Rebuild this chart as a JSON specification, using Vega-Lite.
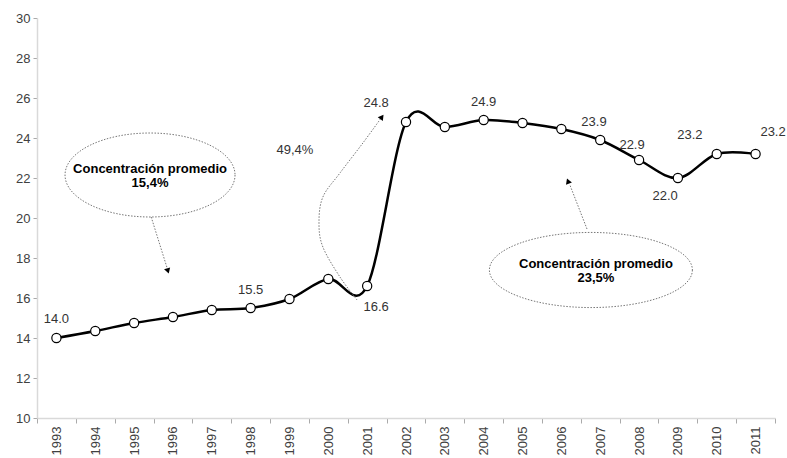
{
  "$schema": "https://vega.github.io/schema/vega-lite/v6.json",
  "width": 738,
  "height": 400,
  "autosize": {"type": "none"},
  "padding": {"left": 37, "top": 18, "right": 12, "bottom": 40},
  "background": "white",
  "config": {
    "view": {"stroke": null},
    "font": "Liberation Sans",
    "axisY": {"labelOverlap": false, "labelFontSize": 13, "labelColor": "#404040", "labelPadding": 3, "tickSize": 4, "tickColor": "#aaaaaa", "domainColor": "#d9d9d9", "domainWidth": 1.5, "grid": false, "title": null}
  },
  "resolve": {"scale": {"x": "independent"}, "axis": {"x": "independent"}},
  "datasets": {
    "series": [
      {"year": 1993, "value": 14.0}, {"year": 1994, "value": 14.35}, {"year": 1995, "value": 14.75},
      {"year": 1996, "value": 15.05}, {"year": 1997, "value": 15.4}, {"year": 1998, "value": 15.5},
      {"year": 1999, "value": 15.95}, {"year": 2000, "value": 16.95}, {"year": 2001, "value": 16.6},
      {"year": 2002, "value": 24.8}, {"year": 2003, "value": 24.55}, {"year": 2004, "value": 24.9},
      {"year": 2005, "value": 24.75}, {"year": 2006, "value": 24.45}, {"year": 2007, "value": 23.9},
      {"year": 2008, "value": 22.9}, {"year": 2009, "value": 22.0}, {"year": 2010, "value": 23.2},
      {"year": 2011, "value": 23.2}
    ],
    "labels": [
      {"x": 1993.0, "y": 14.95, "text": "14.0"},
      {"x": 1998.0, "y": 16.4, "text": "15.5"},
      {"x": 2001.23, "y": 25.75, "text": "24.8"},
      {"x": 2004.0, "y": 25.8, "text": "24.9"},
      {"x": 2006.84, "y": 24.8, "text": "23.9"},
      {"x": 2007.82, "y": 23.65, "text": "22.9"},
      {"x": 2008.67, "y": 21.1, "text": "22.0"},
      {"x": 2009.31, "y": 24.15, "text": "23.2"},
      {"x": 2011.45, "y": 24.3, "text": "23.2"},
      {"x": 2001.23, "y": 15.55, "text": "16.6"},
      {"x": 1999.14, "y": 23.4, "text": "49,4%"}
    ],
    "notes": [
      {"x": 1995.41, "y": 22.43, "text": "Concentración promedio|15,4%"},
      {"x": 2006.89, "y": 17.72, "text": "Concentración promedio|23,5%"}
    ],
    "ellipse1": [{"x": 1995.41, "y": 22.15}],
    "ellipse2": [{"x": 2006.76, "y": 17.4}],
    "curves": [
      {"arrow": "a", "i": 0, "x": 1995.44, "y": 20.05},
      {"arrow": "a", "i": 1, "x": 1995.85, "y": 17.5},
      {"arrow": "b", "i": 0, "x": 2006.66, "y": 19.45},
      {"arrow": "b", "i": 1, "x": 2006.22, "y": 21.65},
      {"arrow": "c", "i": 0, "x": 2000.74, "y": 15.9},
      {"arrow": "c", "i": 1, "x": 2000.30, "y": 17.05},
      {"arrow": "c", "i": 2, "x": 1999.86, "y": 18.55},
      {"arrow": "c", "i": 3, "x": 1999.76, "y": 19.75},
      {"arrow": "c", "i": 4, "x": 1999.86, "y": 21.05},
      {"arrow": "c", "i": 5, "x": 2000.30, "y": 22.25},
      {"arrow": "c", "i": 6, "x": 2000.89, "y": 23.75},
      {"arrow": "c", "i": 7, "x": 2001.36, "y": 25.0}
    ],
    "headA": [{"x": 1995.87, "y": 17.35}],
    "headB": [{"x": 2006.17, "y": 21.85}],
    "headC": [{"x": 2001.38, "y": 25.05}]
  },
  "encoding": {
    "y": {
      "field": "y", "type": "quantitative",
      "scale": {"domain": [10, 30], "nice": false, "zero": false},
      "axis": {"values": [10, 12, 14, 16, 18, 20, 22, 24, 26, 28, 30], "labelOverlap": false, "title": null}
    }
  },
  "layer": [
    {
      "data": {"name": "series"},
      "layer": [
        {
          "mark": {"type": "line", "color": "black", "strokeWidth": 2.5, "interpolate": "cardinal"},
          "encoding": {
            "x": {
              "field": "year", "type": "ordinal",
              "scale": {"type": "band", "paddingInner": 0, "paddingOuter": 0},
              "axis": {
                "title": null, "grid": false, "tickBand": "extent",
                "labelAngle": -90, "labelOverlap": false,
                "labelFontSize": 13, "labelColor": "#404040", "labelPadding": 3,
                "tickSize": 5, "tickColor": "#aaaaaa", "domainColor": "#d9d9d9", "domainWidth": 1.5
              }
            },
            "y": {
              "field": "value", "type": "quantitative",
              "scale": {"domain": [10, 30], "nice": false, "zero": false},
              "axis": {"values": [10, 12, 14, 16, 18, 20, 22, 24, 26, 28, 30], "labelOverlap": false, "title": null}
            }
          }
        },
        {
          "mark": {"type": "point", "shape": "circle", "filled": true, "fill": "white", "stroke": "black", "strokeWidth": 1.2, "size": 85, "opacity": 1},
          "encoding": {
            "x": {"field": "year", "type": "ordinal"},
            "y": {
              "field": "value", "type": "quantitative",
              "scale": {"domain": [10, 30], "nice": false, "zero": false},
              "axis": {"values": [10, 12, 14, 16, 18, 20, 22, 24, 26, 28, 30], "labelOverlap": false, "title": null}
            }
          }
        }
      ]
    },
    {
      "data": {"name": "labels"},
      "mark": {"type": "text", "fontSize": 13, "color": "#333333", "align": "center", "baseline": "middle"},
      "encoding": {
        "x": {"field": "x", "type": "quantitative", "scale": {"domain": [1992.5, 2011.5], "nice": false, "zero": false}, "axis": null},
        "text": {"field": "text"}
      }
    },
    {
      "data": {"name": "curves"},
      "mark": {"type": "line", "color": "#777777", "strokeWidth": 1, "strokeDash": [1.5, 1.5], "interpolate": "cardinal"},
      "encoding": {
        "x": {"field": "x", "type": "quantitative", "scale": {"domain": [1992.5, 2011.5], "nice": false, "zero": false}, "axis": null},
        "detail": {"field": "arrow"},
        "order": {"field": "i", "type": "quantitative"}
      }
    },
    {
      "data": {"name": "headA"},
      "mark": {"type": "point", "shape": "triangle-down", "filled": true, "color": "black", "size": 40, "angle": -17, "opacity": 1},
      "encoding": {
        "x": {"field": "x", "type": "quantitative", "scale": {"domain": [1992.5, 2011.5], "nice": false, "zero": false}, "axis": null}
      }
    },
    {
      "data": {"name": "headB"},
      "mark": {"type": "point", "shape": "triangle-up", "filled": true, "color": "black", "size": 40, "angle": -21, "opacity": 1},
      "encoding": {
        "x": {"field": "x", "type": "quantitative", "scale": {"domain": [1992.5, 2011.5], "nice": false, "zero": false}, "axis": null}
      }
    },
    {
      "data": {"name": "headC"},
      "mark": {"type": "point", "shape": "triangle-up", "filled": true, "color": "black", "size": 40, "angle": 36, "opacity": 1},
      "encoding": {
        "x": {"field": "x", "type": "quantitative", "scale": {"domain": [1992.5, 2011.5], "nice": false, "zero": false}, "axis": null}
      }
    },
    {
      "data": {"name": "ellipse1"},
      "mark": {"type": "point", "shape": "M1,0C1,0.273,0.552,0.494,0,0.494C-0.552,0.494,-1,0.273,-1,0C-1,-0.273,-0.552,-0.494,0,-0.494C0.552,-0.494,1,-0.273,1,0Z", "filled": false, "stroke": "#777777", "strokeWidth": 1, "strokeDash": [1.5, 1.5], "size": 28900, "opacity": 1},
      "encoding": {
        "x": {"field": "x", "type": "quantitative", "scale": {"domain": [1992.5, 2011.5], "nice": false, "zero": false}, "axis": null}
      }
    },
    {
      "data": {"name": "ellipse2"},
      "mark": {"type": "point", "shape": "M1,0C1,0.204,0.552,0.37,0,0.37C-0.552,0.37,-1,0.204,-1,0C-1,-0.204,-0.552,-0.37,0,-0.37C0.552,-0.37,1,-0.204,1,0Z", "filled": false, "stroke": "#777777", "strokeWidth": 1, "strokeDash": [1.5, 1.5], "size": 41209, "opacity": 1},
      "encoding": {
        "x": {"field": "x", "type": "quantitative", "scale": {"domain": [1992.5, 2011.5], "nice": false, "zero": false}, "axis": null}
      }
    },
    {
      "data": {"name": "notes"},
      "mark": {"type": "text", "fontSize": 13, "fontWeight": "bold", "color": "black", "align": "center", "baseline": "middle", "lineBreak": "|", "lineHeight": 14},
      "encoding": {
        "x": {"field": "x", "type": "quantitative", "scale": {"domain": [1992.5, 2011.5], "nice": false, "zero": false}, "axis": null},
        "text": {"field": "text"}
      }
    }
  ]
}
